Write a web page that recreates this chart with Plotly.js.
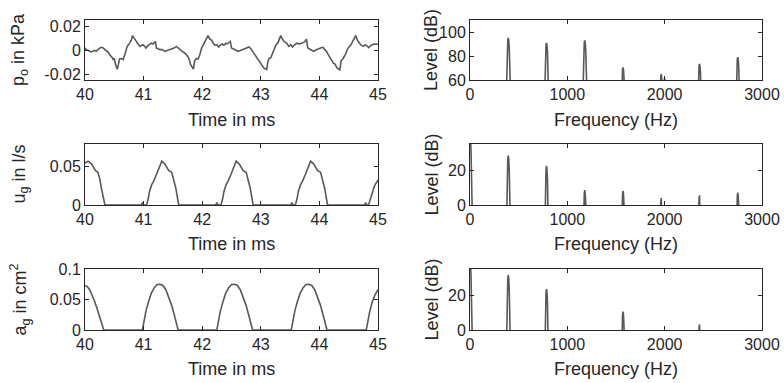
<!DOCTYPE html>
<html>
<head>
<meta charset="utf-8">
<script src="https://cdn.plot.ly/plotly-3.0.1.min.js"></script>
<style>html,body{margin:0;padding:0;background:#fff;}#chart{width:784px;height:383px;}</style>
</head>
<body>
<div id="chart"></div>
<script>
// ---------- time-domain data ----------
const pTime = [40.00,40.03,40.06,40.10,40.13,40.16,40.19,40.22,40.25,40.28,40.31,40.34,40.37,40.40,40.43,40.46,40.48,40.50,40.52,40.55,40.57,40.59,40.62,40.65,40.68,40.70,40.72,40.75,40.77,40.79,40.81,40.84,40.86,40.89,40.91,40.94,40.97,40.99,41.02,41.04,41.07,41.10,41.13,41.16,41.18,41.20,41.22,41.25,41.28,41.32,41.36,41.40,41.44,41.48,41.52,41.56,41.59,41.62,41.66,41.70,41.73,41.76,41.78,41.80,41.83,41.85,41.87,41.90,41.93,41.96,41.99,42.02,42.05,42.08,42.10,42.13,42.16,42.19,42.22,42.25,42.28,42.31,42.34,42.37,42.40,42.43,42.46,42.48,42.50,42.53,42.57,42.61,42.65,42.69,42.73,42.77,42.80,42.83,42.86,42.89,42.92,42.95,42.98,43.01,43.05,43.10,43.12,43.14,43.17,43.20,43.23,43.26,43.29,43.31,43.34,43.37,43.40,43.44,43.48,43.51,43.54,43.58,43.62,43.66,43.70,43.74,43.78,43.80,43.83,43.86,43.90,43.94,43.98,44.02,44.06,44.09,44.12,44.15,44.18,44.21,44.24,44.27,44.30,44.35,44.37,44.40,44.42,44.45,44.48,44.51,44.54,44.57,44.60,44.62,44.65,44.68,44.71,44.75,44.78,44.81,44.84,44.87,44.90,44.93,44.97,45.00];
const pKPa = [0.0016,0.0000,-0.0005,-0.0016,-0.0010,-0.0003,-0.0011,0.0005,0.0016,0.0022,0.0018,0.0003,-0.0005,-0.0020,-0.0045,-0.0060,-0.0079,-0.0070,-0.0120,-0.0160,-0.0120,-0.0075,-0.0071,-0.0079,-0.0038,0.0010,0.0030,0.0049,0.0071,0.0080,0.0120,0.0092,0.0084,0.0060,0.0044,0.0030,0.0040,0.0044,0.0030,0.0016,0.0035,0.0044,0.0057,0.0050,0.0060,0.0071,0.0016,0.0010,0.0003,0.0003,-0.0011,-0.0005,0.0000,0.0010,0.0016,0.0030,0.0020,0.0003,-0.0011,-0.0025,-0.0038,-0.0060,-0.0079,-0.0120,-0.0147,-0.0160,-0.0092,-0.0071,-0.0075,-0.0038,0.0016,0.0044,0.0070,0.0103,0.0120,0.0090,0.0082,0.0055,0.0040,0.0044,0.0025,0.0040,0.0050,0.0040,0.0055,0.0052,0.0060,0.0071,0.0016,0.0008,-0.0003,-0.0011,-0.0005,0.0003,0.0010,0.0022,0.0025,0.0010,-0.0011,-0.0035,-0.0050,-0.0079,-0.0090,-0.0120,-0.0150,-0.0163,-0.0100,-0.0071,-0.0065,-0.0030,0.0016,0.0044,0.0057,0.0080,0.0120,0.0090,0.0070,0.0057,0.0030,0.0044,0.0025,0.0044,0.0057,0.0050,0.0060,0.0065,0.0090,0.0020,0.0008,-0.0003,-0.0011,0.0000,0.0010,0.0016,0.0022,0.0008,-0.0011,-0.0038,-0.0060,-0.0079,-0.0110,-0.0120,-0.0150,-0.0165,-0.0090,-0.0075,-0.0060,-0.0030,0.0010,0.0030,0.0044,0.0075,0.0100,0.0120,0.0080,0.0060,0.0040,0.0030,0.0044,0.0035,0.0020,0.0035,0.0044,0.0050,0.0048,0.0050];

const uTime = [40.00,40.05,40.11,40.15,40.18,40.22,40.25,40.28,40.31,40.33,40.34,40.96,40.98,41.00,41.05,41.08,41.10,41.14,41.17,41.22,41.26,41.31,41.36,41.40,41.43,41.48,41.51,41.55,41.58,41.60,42.23,42.25,42.27,42.32,42.35,42.37,42.41,42.44,42.49,42.53,42.58,42.63,42.67,42.70,42.75,42.78,42.82,42.85,42.87,43.51,43.53,43.55,43.59,43.62,43.64,43.68,43.71,43.76,43.80,43.85,43.90,43.94,43.97,44.02,44.05,44.09,44.12,44.14,44.77,44.79,44.81,44.84,44.87,44.90,44.94,44.97,45.00];
const uFlow = [0.055,0.0575,0.054,0.0496,0.045,0.043,0.035,0.022,0.0085,0.002,0,0,0.003,0,0,0.0085,0.0175,0.027,0.031,0.040,0.049,0.0575,0.054,0.0496,0.045,0.043,0.035,0.022,0.0085,0,0,0.003,0,0,0.0085,0.0175,0.027,0.031,0.040,0.049,0.0575,0.054,0.0496,0.045,0.043,0.035,0.022,0.0085,0,0,0.003,0,0,0.0085,0.0175,0.027,0.031,0.040,0.049,0.0575,0.054,0.0496,0.045,0.043,0.035,0.022,0.0085,0,0,0.003,0,0,0.008,0.016,0.025,0.029,0.033];

const aTime = [40.00,40.04,40.08,40.12,40.16,40.20,40.24,40.28,40.32,40.98,41.01,41.04,41.08,41.13,41.18,41.23,41.28,41.33,41.38,41.43,41.48,41.53,41.59,42.25,42.28,42.31,42.35,42.40,42.45,42.50,42.55,42.60,42.65,42.70,42.75,42.80,42.86,43.52,43.55,43.58,43.62,43.67,43.72,43.77,43.82,43.87,43.92,43.97,44.02,44.07,44.13,44.80,44.83,44.86,44.90,44.95,45.00];
const aArea = [0.073,0.071,0.066,0.058,0.048,0.037,0.025,0.013,0,0,0.016,0.031,0.045,0.060,0.069,0.0745,0.075,0.073,0.066,0.054,0.040,0.022,0,0,0.016,0.031,0.045,0.060,0.069,0.0745,0.075,0.073,0.066,0.054,0.040,0.022,0,0,0.016,0.031,0.045,0.060,0.069,0.0745,0.075,0.073,0.066,0.054,0.040,0.022,0,0,0.016,0.031,0.045,0.058,0.066];

// ---------- spectra ----------
const harmonicHz = [393, 786, 1179, 1572, 1965, 2358, 2751];
const poLevelDb  = [95, 91, 93, 70.5, 65, 73.5, 79];
const ugLevelDb  = [28.3, 22.4, 8.5, 8.1, 4, 5.6, 7.1];
const agLevelDb  = [31.5, 23.5, null, 10.5, null, 3.2, null];
const poExtraHz = [2000];
const poExtraDb = [61.5];
const dcLevelDb = {po: null, ug: 40, ag: 40};
// shape of one spectral peak: offset from peak (Hz) and drop below peak (dB)
const lobeOffsetHz = [-40, -30, -25, -20, -15, -10, -5, 0, 5, 10, 15, 20, 25, 30, 40];
const lobeDropDb   = [110, 75, 50, 32, 18, 8, 2, 0, 2, 8, 18, 32, 50, 75, 110];

// ---------- labels ----------
const timeLabel = 'Time in ms';
const freqLabel = 'Frequency (Hz)';
const levelLabel = 'Level (dB)';
const leftYLabels = ['p<sub>o</sub> in kPa', 'u<sub>g</sub> in l/s', 'a<sub>g</sub> in cm<sup>2</sup>'];

function buildSpectrum(freqs, levels, extraF, extraL, dc) {
  const x = [], y = [];
  const addPeak = (f, L, onlyPositive) => {
    for (let j = 0; j < lobeOffsetHz.length; j++) {
      if (onlyPositive && lobeOffsetHz[j] < 0) continue;
      x.push(f + lobeOffsetHz[j]); y.push(L - lobeDropDb[j]);
    }
    x.push(null); y.push(null);
  };
  if (dc != null) addPeak(0, dc, true);
  freqs.forEach((f, i) => { if (levels[i] != null) addPeak(f, levels[i], false); });
  (extraF || []).forEach((f, i) => addPeak(f, extraL[i], false));
  return {x, y};
}

const LINE = {color: '#595959', width: 1.6};
const FONT = 'Liberation Sans, Arial, Helvetica, sans-serif';
const AXC = '#262626';

const sp1 = buildSpectrum(harmonicHz, poLevelDb, poExtraHz, poExtraDb, dcLevelDb.po);
const sp2 = buildSpectrum(harmonicHz, ugLevelDb, null, null, dcLevelDb.ug);
const sp3 = buildSpectrum(harmonicHz, agLevelDb, null, null, dcLevelDb.ag);

const traces = [
  {x: pTime, y: pKPa, xaxis: 'x', yaxis: 'y'},
  {x: sp1.x, y: sp1.y, xaxis: 'x2', yaxis: 'y2'},
  {x: uTime, y: uFlow, xaxis: 'x3', yaxis: 'y3'},
  {x: sp2.x, y: sp2.y, xaxis: 'x4', yaxis: 'y4'},
  {x: aTime, y: aArea, xaxis: 'x5', yaxis: 'y5'},
  {x: sp3.x, y: sp3.y, xaxis: 'x6', yaxis: 'y6'}
].map(t => Object.assign(t, {type: 'scatter', mode: 'lines', line: LINE, connectgaps: false, hoverinfo: 'skip'}));

const W = 784, H = 383;
const colX = [[85, 378], [470, 762]];
const rowY = [[20, 80], [144, 205], [269, 330]];
const dx = c => [colX[c][0] / W, colX[c][1] / W];
const dy = r => [1 - rowY[r][1] / H, 1 - rowY[r][0] / H];

function ax(extra) {
  return Object.assign({
    showline: true, linecolor: AXC, linewidth: 1, mirror: 'ticks',
    ticks: 'inside', ticklen: 4, tickcolor: AXC, tickwidth: 1,
    showgrid: false, zeroline: false, automargin: false, fixedrange: true,
    tickfont: {family: FONT, size: 16, color: AXC}
  }, extra);
}

const timeX = anchor => ax({anchor: anchor, domain: dx(0), range: [40, 45], tick0: 40, dtick: 1});
const freqX = anchor => ax({anchor: anchor, domain: dx(1), range: [0, 3000], tick0: 0, dtick: 1000});

// axis titles placed as annotations at the reference positions
const TFONT = {family: FONT, size: 18, color: AXC};
const annotations = [];
const xTitleY = [120, 244, 369];
const yTitleX = [20, 431];
for (let r = 0; r < 3; r++) {
  const cy = (rowY[r][0] + rowY[r][1]) / 2;
  annotations.push({text: timeLabel, xref: 'paper', yref: 'paper', x: (colX[0][0] + colX[0][1]) / 2 / W, y: 1 - xTitleY[r] / H, xanchor: 'center', yanchor: 'middle', showarrow: false, font: TFONT});
  annotations.push({text: freqLabel, xref: 'paper', yref: 'paper', x: (colX[1][0] + colX[1][1]) / 2 / W, y: 1 - xTitleY[r] / H, xanchor: 'center', yanchor: 'middle', showarrow: false, font: TFONT});
  annotations.push({text: leftYLabels[r], textangle: -90, xref: 'paper', yref: 'paper', x: yTitleX[0] / W, y: 1 - cy / H, xanchor: 'center', yanchor: 'middle', showarrow: false, font: TFONT});
  annotations.push({text: levelLabel, textangle: -90, xref: 'paper', yref: 'paper', x: yTitleX[1] / W, y: 1 - cy / H, xanchor: 'center', yanchor: 'middle', showarrow: false, font: TFONT});
}

const layout = {
  width: W, height: H,
  margin: {l: 0, r: 0, t: 0, b: 0},
  paper_bgcolor: '#ffffff', plot_bgcolor: '#ffffff',
  showlegend: false,
  font: {family: FONT, color: AXC},
  annotations: annotations,
  xaxis:  timeX('y'),
  yaxis:  ax({anchor: 'x', domain: dy(0), range: [-0.025, 0.025], tickvals: [-0.02, 0, 0.02], ticktext: ['-0.02', '0', '0.02']}),
  xaxis2: freqX('y2'),
  yaxis2: ax({anchor: 'x2', domain: dy(0), range: [60, 110], tickvals: [60, 80, 100]}),
  xaxis3: timeX('y3'),
  yaxis3: ax({anchor: 'x3', domain: dy(1), range: [0, 0.08], tickvals: [0, 0.05], ticktext: ['0', '0.05']}),
  xaxis4: freqX('y4'),
  yaxis4: ax({anchor: 'x4', domain: dy(1), range: [0, 35], tickvals: [0, 20]}),
  xaxis5: timeX('y5'),
  yaxis5: ax({anchor: 'x5', domain: dy(2), range: [0, 0.1], tickvals: [0, 0.05, 0.1], ticktext: ['0', '0.05', '0.1']}),
  xaxis6: freqX('y6'),
  yaxis6: ax({anchor: 'x6', domain: dy(2), range: [0, 35], tickvals: [0, 20]})
};

Plotly.newPlot('chart', traces, layout, {staticPlot: true, displayModeBar: false});
</script>
</body>
</html>
